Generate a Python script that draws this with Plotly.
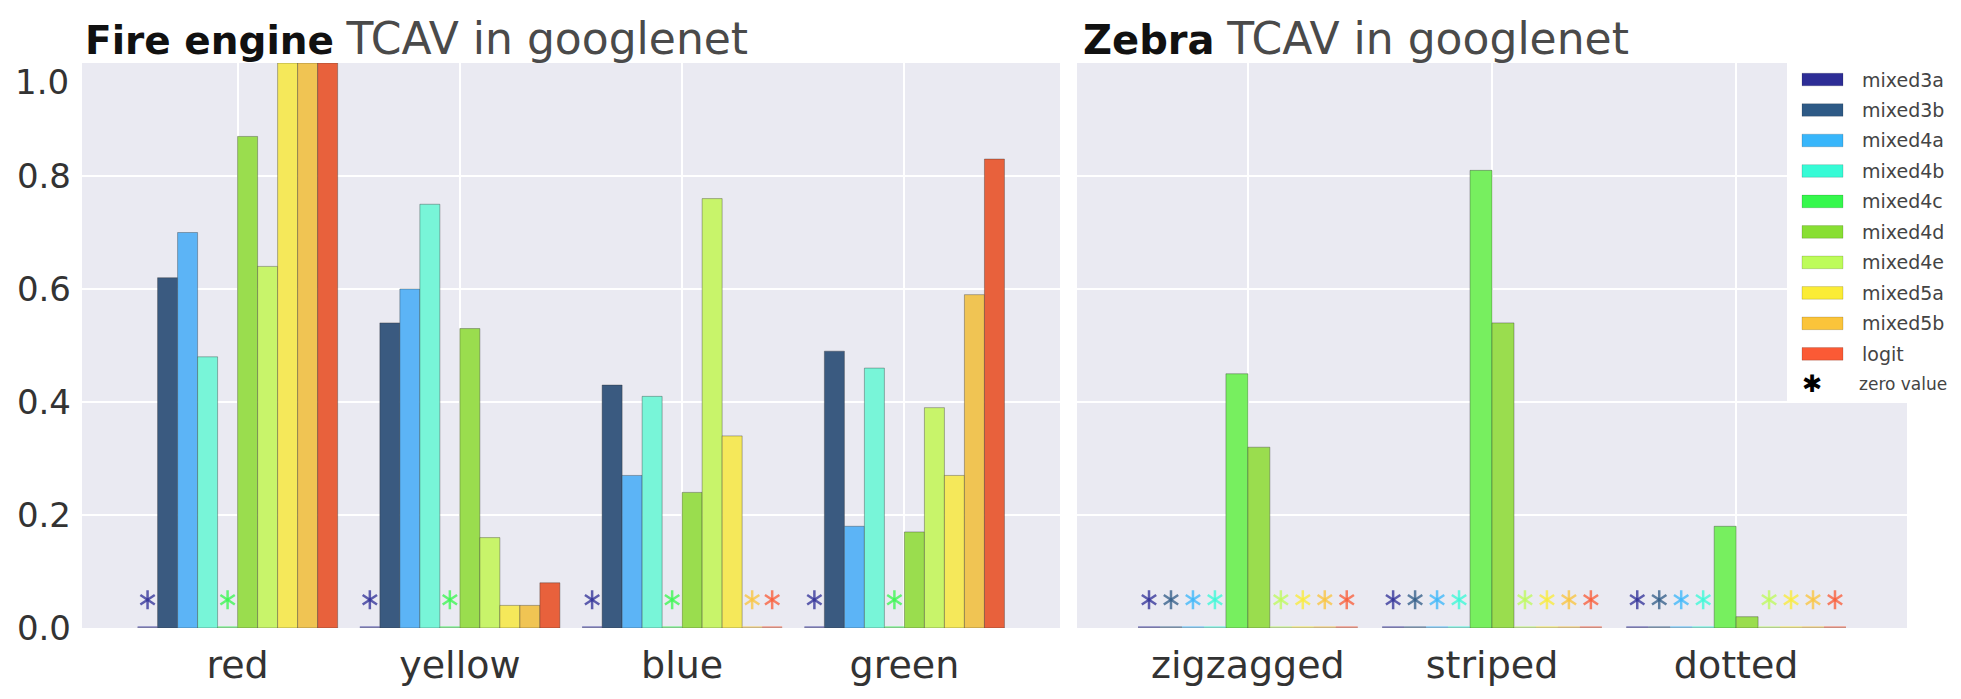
import plotly.graph_objects as go

# ---- data -----------------------------------------------------------------
LAYERS = ["mixed3a", "mixed3b", "mixed4a", "mixed4b", "mixed4c",
          "mixed4d", "mixed4e", "mixed5a", "mixed5b", "logit"]

FIRE_CONCEPTS = ["red", "yellow", "blue", "green"]
FIRE_RED = [0, 0.62, 0.70, 0.48, 0, 0.87, 0.64, 1.0, 1.0, 1.0]
FIRE_YELLOW = [0, 0.54, 0.60, 0.75, 0, 0.53, 0.16, 0.04, 0.04, 0.08]
FIRE_BLUE = [0, 0.43, 0.27, 0.41, 0, 0.24, 0.76, 0.34, 0, 0]
FIRE_GREEN = [0, 0.49, 0.18, 0.46, 0, 0.17, 0.39, 0.27, 0.59, 0.83]

ZEBRA_CONCEPTS = ["zigzagged", "striped", "dotted"]
ZEBRA_ZIGZAGGED = [0, 0, 0, 0, 0.45, 0.32, 0, 0, 0, 0]
ZEBRA_STRIPED = [0, 0, 0, 0, 0.81, 0.54, 0, 0, 0, 0]
ZEBRA_DOTTED = [0, 0, 0, 0, 0.18, 0.02, 0, 0, 0, 0]

Y_TICKS = [0.0, 0.2, 0.4, 0.6, 0.8, 1.0]
Y_TICK_LABELS = ["0.0", "0.2", "0.4", "0.6", "0.8", "1.0"]

ZERO_LABEL = "zero value"

# ---- styling ----------------------------------------------------------------
BAR_COLORS = ["#2c2c90", "#3a5a80", "#5cb4f6", "#78f5d8", "#77ef5f",
              "#9add4e", "#c8f46a", "#f5e85a", "#f0c453", "#e8613c"]
KEY_COLORS = ["#2d2d96", "#2e5a86", "#38b6fb", "#36fbd6", "#35f84c",
              "#88df33", "#bdfc59", "#fbec35", "#fbc43a", "#fb5a35"]

FONT = "DejaVu Sans"
BG = "#eaeaf2"
GROUP_WIDTH = 0.9
BAR_W = GROUP_WIDTH / len(LAYERS)
STAR_Y = 0.05

W, H = 1961, 699
PLOT_L, PLOT_R, PLOT_T, PLOT_B = 82, 1907, 63, 645


def px(xp):
    return (xp - PLOT_L) / (PLOT_R - PLOT_L)


def py(yp):
    return (PLOT_B - yp) / (PLOT_B - PLOT_T)


def offset(i):
    return -GROUP_WIDTH / 2 + BAR_W * (i + 0.5)


fig = go.Figure()


def add_panel(concepts, rows, xa, ya):
    star_x, star_c = [], []
    for i, layer in enumerate(LAYERS):
        xs = [c + offset(i) for c in range(len(concepts))]
        ys = [rows[c][i] for c in range(len(concepts))]
        fig.add_trace(go.Bar(
            x=xs, y=ys, width=BAR_W, name=layer, xaxis=xa, yaxis=ya,
            marker=dict(color=BAR_COLORS[i],
                        line=dict(color="rgba(40,40,40,0.35)", width=1)),
            showlegend=False, hoverinfo="skip",
        ))
        # zero-valued layers: faint baseline stub plus an asterisk above it
        lx, ly = [], []
        for x, v in zip(xs, ys):
            if v == 0:
                lx += [x - BAR_W / 2, x + BAR_W / 2, None]
                ly += [0, 0, None]
                star_x.append(x)
                star_c.append(KEY_COLORS[i])
        if lx:
            fig.add_trace(go.Scatter(
                x=lx, y=ly, mode="lines", xaxis=xa, yaxis=ya,
                line=dict(color=KEY_COLORS[i], width=4), opacity=0.4,
                cliponaxis=False, showlegend=False, hoverinfo="skip",
            ))
    for sym in ("y-up-open", "y-down-open"):
        fig.add_trace(go.Scatter(
            x=star_x, y=[STAR_Y] * len(star_x), mode="markers",
            xaxis=xa, yaxis=ya, opacity=0.75,
            marker=dict(symbol=sym, size=12, color=star_c,
                        line=dict(color=star_c, width=2.5)),
            cliponaxis=False, showlegend=False, hoverinfo="skip",
        ))


add_panel(FIRE_CONCEPTS, [FIRE_RED, FIRE_YELLOW, FIRE_BLUE, FIRE_GREEN], "x", "y")
add_panel(ZEBRA_CONCEPTS, [ZEBRA_ZIGZAGGED, ZEBRA_STRIPED, ZEBRA_DOTTED], "x2", "y2")

grid = dict(showgrid=True, gridcolor="white", gridwidth=2, zeroline=False,
            showline=False, ticks="")

fig.update_layout(
    width=W, height=H,
    margin=dict(l=PLOT_L, r=W - PLOT_R, t=PLOT_T, b=H - PLOT_B, pad=0),
    paper_bgcolor="white", plot_bgcolor=BG,
    barmode="overlay", showlegend=False,
    font=dict(family=FONT, color="#333333"),
    xaxis=dict(domain=[0, px(1060)], range=[-0.7, len(FIRE_CONCEPTS) - 0.3],
               tickvals=list(range(len(FIRE_CONCEPTS))), ticktext=FIRE_CONCEPTS,
               tickfont=dict(size=38, color="#333333"), ticklabelstandoff=11,
               anchor="y", **grid),
    xaxis2=dict(domain=[px(1077), 1], range=[-0.7, len(ZEBRA_CONCEPTS) - 0.3],
                tickvals=list(range(len(ZEBRA_CONCEPTS))), ticktext=ZEBRA_CONCEPTS,
                tickfont=dict(size=38, color="#333333"), ticklabelstandoff=11,
                anchor="y2", **grid),
    yaxis=dict(domain=[0, 1], range=[0, 1.0], tickvals=Y_TICKS[:-1],
               ticktext=Y_TICK_LABELS[:-1], tickfont=dict(size=34, color="#333333"),
               ticklabelstandoff=10, anchor="x", **grid),
    yaxis2=dict(domain=[0, 1], range=[0, 1.0], tickvals=Y_TICKS,
                showticklabels=False, matches="y", anchor="x2", **grid),
)

TITLE_REST = "<span style='font-size:44px;color:#4a4a4a'>TCAV in googlenet</span>"

annotations = [
    # top tick label sits just below the frame edge
    dict(text=Y_TICK_LABELS[-1], x=px(71), y=Y_TICKS[-1], xref="paper", yref="y",
         xanchor="right", yanchor="middle", yshift=-19, showarrow=False,
         font=dict(size=34, color="#333333", family=FONT)),
    dict(text="<b>Fire engine</b> " + TITLE_REST,
         x=px(83), y=py(38), xref="paper", yref="paper", xanchor="left",
         yanchor="middle", showarrow=False,
         font=dict(size=39, color="#111111", family=FONT)),
    dict(text="<b>Zebra</b> " + TITLE_REST,
         x=px(1081), y=py(38), xref="paper", yref="paper", xanchor="left",
         yanchor="middle", showarrow=False,
         font=dict(size=40, color="#111111", family=FONT)),
]

shapes = [
    dict(type="rect", xref="paper", yref="paper", x0=px(1787), x1=px(1975),
         y0=py(413), y1=py(55), fillcolor="white", line=dict(width=0),
         layer="above"),
]

KEY_TOP, KEY_STEP = 80, 31.4
for k, layer in enumerate(LAYERS):
    cy = KEY_TOP + KEY_STEP * k
    shapes.append(dict(type="rect", xref="paper", yref="paper",
                       x0=px(1802), x1=px(1843), y0=py(cy + 6.5), y1=py(cy - 6.5),
                       fillcolor=KEY_COLORS[k],
                       line=dict(color="rgba(0,0,0,0.15)", width=1), layer="above"))
    annotations.append(dict(text=layer, x=px(1860), y=py(cy), xref="paper",
                            yref="paper", xanchor="left", yanchor="middle",
                            showarrow=False,
                            font=dict(size=19, color="#444444", family=FONT)))

cy = KEY_TOP + KEY_STEP * len(LAYERS)
annotations.append(dict(text="✱", x=px(1812), y=py(cy), xref="paper", yref="paper",
                        xanchor="center", yanchor="middle", showarrow=False,
                        font=dict(size=24, color="black", family=FONT)))
annotations.append(dict(text=ZERO_LABEL, x=px(1857), y=py(cy), xref="paper",
                        yref="paper", xanchor="left", yanchor="middle",
                        showarrow=False,
                        font=dict(size=17, color="#444444", family=FONT)))

fig.update_layout(annotations=annotations, shapes=shapes)

fig.write_html("out.html")
